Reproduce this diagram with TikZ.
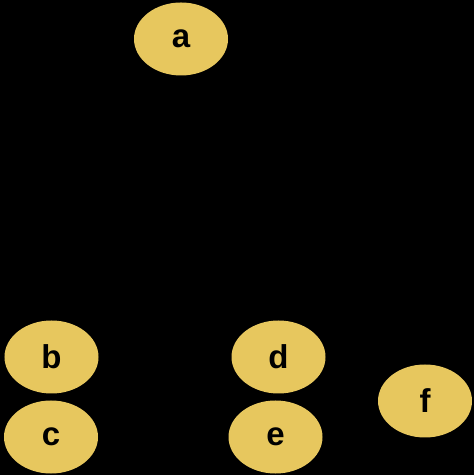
\documentclass[tikz,border=0pt]{standalone}
\usepackage{fontspec}
\setmainfont{Liberation Sans}
\usetikzlibrary{shapes.geometric}
\definecolor{nodefill}{RGB}{231,199,94}
\tikzset{
  vert/.style={ellipse, fill=nodefill, draw=none, inner sep=0pt,
    minimum width=94bp, minimum height=73bp,
    font=\fontsize{33bp}{35bp}\selectfont\bfseries, text=black}
}
\begin{document}
\begin{tikzpicture}[x=1bp,y=1bp]
\fill[black] (0,0) rectangle (474,475);
\useasboundingbox (0,0) rectangle (474,475);
\node[vert] (a) at (181,436) {a};
\node[vert] (b) at (51.5,118) {b};
\node[vert] (c) at (51,38) {c};
\node[vert] (d) at (278.5,118) {d};
\node[vert] (e) at (275.5,38) {e};
\node[vert] (f) at (425,74) {f};
\end{tikzpicture}
\end{document}
